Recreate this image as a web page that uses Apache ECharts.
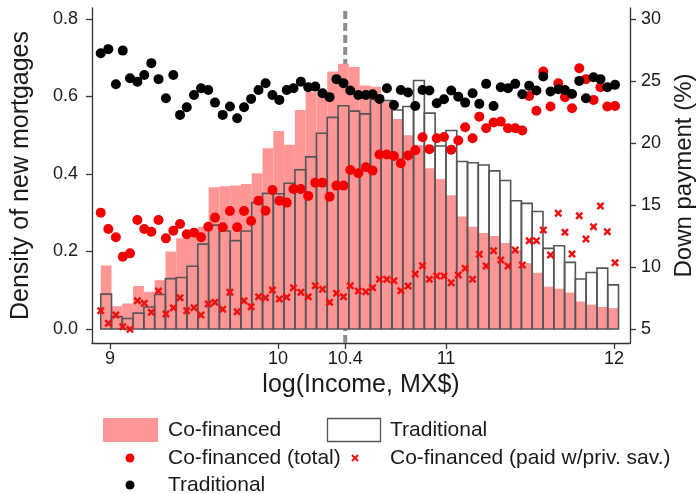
<!DOCTYPE html>
<html><head><meta charset="utf-8">
<script src="https://cdn.jsdelivr.net/npm/echarts@6/dist/echarts.min.js"></script>
<style>html,body{margin:0;padding:0;background:#fff}#c{width:697px;height:494px}</style>
</head><body><div id="c"></div>
<script>
// Histogram bins (log income)
const binStart = 8.945;
const binWidth = 0.0642;
const cofinancedDensity = [0.164, 0.059, 0.066, 0.111, 0.096, 0.126, 0.200, 0.234, 0.236, 0.264,
  0.366, 0.368, 0.370, 0.374, 0.402, 0.466, 0.511, 0.475, 0.565, 0.612,
  0.612, 0.664, 0.684, 0.676, 0.628, 0.625, 0.585, 0.542, 0.500, 0.475,
  0.415, 0.387, 0.345, 0.290, 0.264, 0.248, 0.240, 0.222, 0.204, 0.170,
  0.145, 0.109, 0.104, 0.094, 0.071, 0.063, 0.057, 0.054];
const traditionalDensity = [0.090, 0.032, 0.027, 0.041, 0.057, 0.089, 0.130, 0.133, 0.162, 0.219,
  0.268, 0.253, 0.228, 0.253, 0.326, 0.350, 0.349, 0.376, 0.411, 0.444,
  0.505, 0.546, 0.576, 0.562, 0.555, 0.592, 0.589, 0.565, 0.574, 0.641,
  0.557, 0.472, 0.512, 0.432, 0.429, 0.423, 0.408, 0.383, 0.331, 0.324,
  0.303, 0.208, 0.215, 0.172, 0.129, 0.146, 0.157, 0.114];

// Binned scatter (down payment %)
const pointIncome = [8.945, 8.990, 9.035, 9.076, 9.119, 9.163, 9.204, 9.246, 9.289, 9.333,
  9.377, 9.417, 9.457, 9.500, 9.542, 9.585, 9.625, 9.671, 9.714, 9.757,
  9.798, 9.840, 9.884, 9.926, 9.967, 10.008, 10.052, 10.092, 10.136, 10.180,
  10.222, 10.265, 10.307, 10.348, 10.390, 10.430, 10.478, 10.523, 10.563, 10.604,
  10.648, 10.690, 10.731, 10.774, 10.817, 10.860, 10.901, 10.945, 10.988, 11.031,
  11.073, 11.114, 11.158, 11.198, 11.239, 11.283, 11.326, 11.369, 11.412, 11.454,
  11.495, 11.538, 11.579, 11.622, 11.668, 11.708, 11.750, 11.793, 11.833, 11.878,
  11.919, 11.960, 12.006];
const downTraditional = [27.23, 27.56, 24.73, 27.44, 25.22, 24.94, 25.48, 26.43, 25.14, 23.60,
  25.48, 22.26, 22.88, 23.87, 24.41, 24.27, 23.25, 22.26, 22.93, 21.99,
  22.88, 23.55, 24.27, 24.81, 23.87, 23.47, 24.27, 24.41, 24.94, 24.49,
  24.54, 24.01, 23.69, 25.14, 24.81, 24.22, 23.87, 23.87, 23.93, 23.55,
  24.41, 23.06, 24.27, 24.06, 22.98, 24.27, 24.22, 23.20, 23.52, 24.22,
  23.73, 23.25, 24.01, 23.15, 24.76, 22.98, 24.49, 24.41, 24.76, 23.93,
  24.60, 24.22, 25.35, 24.14, 24.33, 24.27, 23.95, 25.00, 23.60, 25.30,
  25.14, 24.49, 24.68];
const downCofinTotal = [14.38, 13.06, 12.40, 10.83, 11.10, 13.79, 13.06, 12.85, 13.79, 12.31,
  12.93, 13.47, 12.64, 12.77, 12.40, 13.25, 13.98, 13.20, 14.52, 13.20,
  14.52, 13.71, 15.35, 14.54, 16.21, 15.35, 15.19, 16.29, 16.29, 15.73,
  16.80, 16.80, 15.67, 16.56, 16.56, 17.82, 17.56, 18.04, 17.77, 19.07,
  19.07, 18.95, 18.36, 18.99, 19.41, 20.46, 19.50, 20.38, 20.48, 19.46,
  20.20, 21.27, 20.38, 22.12, 21.19, 21.64, 21.72, 21.19, 21.19, 21.00,
  23.79, 22.60, 25.75, 22.93, 24.81, 23.69, 22.80, 26.02, 25.14, 23.47,
  24.49, 22.93, 22.98];
const downCofinPrivate = [6.48, 5.46, 6.13, 5.19, 4.98, 7.28, 7.07, 6.35, 8.06, 6.21,
  6.72, 7.52, 6.48, 6.72, 6.13, 7.02, 7.15, 6.59, 7.96, 6.40,
  7.28, 6.80, 7.60, 7.52, 8.15, 7.42, 7.56, 8.33, 7.96, 7.60,
  8.49, 8.20, 7.15, 7.88, 7.60, 8.49, 8.06, 8.01, 8.33, 9.01,
  9.01, 8.90, 8.09, 8.47, 9.44, 10.11, 9.01, 9.27, 9.27, 8.73,
  9.35, 9.90, 9.01, 11.02, 10.08, 11.31, 10.56, 10.08, 11.37, 10.16,
  12.12, 12.12, 12.98, 10.97, 14.33, 12.80, 11.05, 14.14, 12.26, 13.25,
  14.92, 12.85, 10.35];

const xTicks = [9, 10, 10.4, 11, 12];
const leftTicks = [0, 0.2, 0.4, 0.6, 0.8];
const rightTicks = [5, 10, 15, 20, 25, 30];
const refIncome = 10.4;

const FONT = '"Liberation Sans", Arial, sans-serif';
const AX = '#333';
const TXT = '#1a1a1a';
const PINK = '#ff9696';
const XMARK = 'path://M0,2.2 L2.2,0 L5,2.8 L7.8,0 L10,2.2 L7.2,5 L10,7.8 L7.8,10 L5,7.2 L2.2,10 L0,7.8 L2.8,5 Z';

const chart = echarts.init(document.getElementById('c'), null, {renderer: 'canvas'});

function histSeries(name, values, style, z) {
  return {
    type: 'custom', name: name, z: z, xAxisIndex: 0, yAxisIndex: 0,
    data: values.map((v, i) => [binStart + i * binWidth, binStart + (i + 1) * binWidth, v]),
    encode: {x: [0, 1], y: 2},
    renderItem: function (params, api) {
      const p0 = api.coord([api.value(0), 0]);
      const p1 = api.coord([api.value(1), api.value(2)]);
      return {type: 'rect', shape: {x: p0[0], y: p1[1], width: p1[0] - p0[0], height: p0[1] - p1[1]}, style: style};
    }
  };
}
function pts(arr) { return pointIncome.map((x, i) => [x, arr[i]]); }

const yLeftMin = -0.036, yLeftMax = 0.828;

chart.setOption({
  animation: false,
  backgroundColor: '#fff',
  textStyle: {fontFamily: FONT},
  grid: {left: 92, right: 67, top: 8, bottom: 151, containLabel: false, outerBoundsMode: 'none'},
  xAxis: {
    type: 'value', min: 8.893, max: 12.095,
    axisLine: {show: true, onZero: false, lineStyle: {color: AX, width: 1.3}},
    axisTick: {show: true, customValues: xTicks, length: 6, lineStyle: {color: AX, width: 1.3}},
    axisLabel: {customValues: xTicks, fontSize: 18, color: TXT, margin: 7, fontFamily: FONT},
    splitLine: {show: false},
    name: 'log(Income, MX$)', nameLocation: 'middle', nameGap: 30,
    nameTextStyle: {fontSize: 25, color: TXT, fontFamily: FONT}
  },
  yAxis: [{
    type: 'value', min: yLeftMin, max: yLeftMax, position: 'left',
    axisLine: {show: true, onZero: false, lineStyle: {color: AX, width: 1.3}},
    axisTick: {show: true, customValues: leftTicks, length: 6, lineStyle: {color: AX, width: 1.3}},
    axisLabel: {customValues: leftTicks, fontSize: 18, color: TXT, margin: 14, fontFamily: FONT,
      formatter: v => v.toFixed(1)},
    splitLine: {show: false},
    name: 'Density of new mortgages', nameLocation: 'middle', nameGap: 58, nameRotate: 90,
    nameTextStyle: {fontSize: 25, color: TXT, fontFamily: FONT}
  }, {
    type: 'value', min: 5 + yLeftMin * 31.25, max: 5 + yLeftMax * 31.25, position: 'right',
    axisLine: {show: true, onZero: false, lineStyle: {color: AX, width: 1.3}},
    axisTick: {show: true, customValues: rightTicks, length: 6, lineStyle: {color: AX, width: 1.3}},
    axisLabel: {customValues: rightTicks, fontSize: 18, color: TXT, margin: 11, fontFamily: FONT},
    splitLine: {show: false},
    name: 'Down payment (%)', nameLocation: 'middle', nameGap: 38, nameRotate: 90,
    nameTextStyle: {fontSize: 24, color: TXT, fontFamily: FONT}
  }],
  series: [
    {
      type: 'line', name: 'ref', z: 1, xAxisIndex: 0, yAxisIndex: 0, symbol: 'none', silent: true,
      data: [[refIncome, yLeftMin], [refIncome, yLeftMax]],
      lineStyle: {color: '#8c8c8c', width: 4, type: [8, 4]}
    },
    histSeries('Co-financed', cofinancedDensity, {fill: PINK}, 2),
    histSeries('Traditional hist', traditionalDensity, {fill: 'none', stroke: '#555', lineWidth: 1.6}, 3),
    {
      type: 'scatter', name: 'Co-financed (paid w/priv. sav.)', z: 4, yAxisIndex: 1,
      symbol: XMARK, symbolSize: 8, itemStyle: {color: '#ee1111', opacity: 1}, data: pts(downCofinPrivate)
    },
    {
      type: 'scatter', name: 'Co-financed (total)', z: 5, yAxisIndex: 1,
      symbol: 'circle', symbolSize: 10, itemStyle: {color: '#f00000', opacity: 1}, data: pts(downCofinTotal)
    },
    {
      type: 'scatter', name: 'Traditional', z: 6, yAxisIndex: 1,
      symbol: 'circle', symbolSize: 10, itemStyle: {color: '#000', opacity: 1}, data: pts(downTraditional)
    }
  ],
  graphic: [
    {type: 'rect', shape: {x: 103, y: 418, width: 55, height: 24}, style: {fill: PINK}},
    {type: 'text', x: 168, y: 430, style: {text: 'Co-financed', fontSize: 21, fill: TXT, fontFamily: FONT, verticalAlign: 'middle'}},
    {type: 'rect', shape: {x: 327.5, y: 418.5, width: 53, height: 23}, style: {fill: 'none', stroke: '#555', lineWidth: 1.3}},
    {type: 'text', x: 390, y: 430, style: {text: 'Traditional', fontSize: 21, fill: TXT, fontFamily: FONT, verticalAlign: 'middle'}},
    {type: 'circle', shape: {cx: 130, cy: 458, r: 4.5}, style: {fill: '#f00000'}},
    {type: 'text', x: 168, y: 458, style: {text: 'Co-financed (total)', fontSize: 21, fill: TXT, fontFamily: FONT, verticalAlign: 'middle'}},
    {type: 'line', shape: {x1: 352, y1: 455, x2: 358, y2: 461}, style: {stroke: '#ee1111', lineWidth: 2}},
    {type: 'line', shape: {x1: 358, y1: 455, x2: 352, y2: 461}, style: {stroke: '#ee1111', lineWidth: 2}},
    {type: 'text', x: 390, y: 458, style: {text: 'Co-financed (paid w/priv. sav.)', fontSize: 21, fill: TXT, fontFamily: FONT, verticalAlign: 'middle'}},
    {type: 'circle', shape: {cx: 130, cy: 485, r: 4.5}, style: {fill: '#000'}},
    {type: 'text', x: 168, y: 485, style: {text: 'Traditional', fontSize: 21, fill: TXT, fontFamily: FONT, verticalAlign: 'middle'}}
  ]
});
</script></body></html>
